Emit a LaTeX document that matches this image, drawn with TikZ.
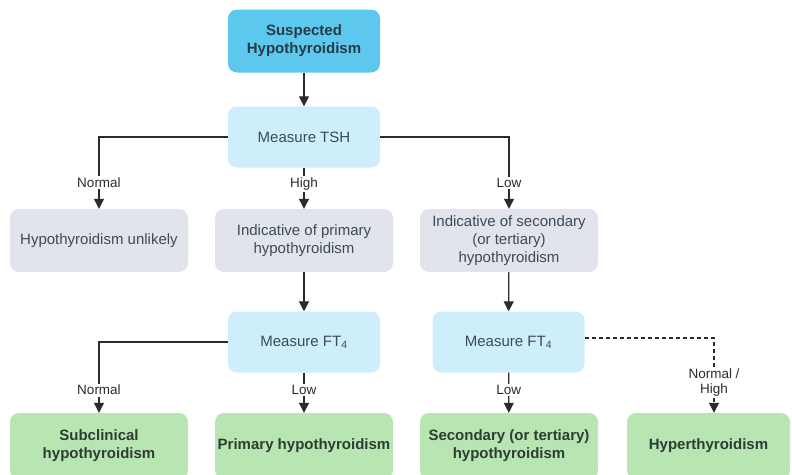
\documentclass[tikz,border=0pt]{standalone}
\usepackage{fontspec}
\setmainfont{Liberation Sans}
\usetikzlibrary{arrows.meta}
\definecolor{topblue}{HTML}{5CC8EE}
\definecolor{lblue}{HTML}{CDEEFA}
\definecolor{lgray}{HTML}{E1E5EB}
\definecolor{lgreen}{HTML}{B8E6B3}
\definecolor{txt}{HTML}{3D4B55}
\definecolor{btxt}{HTML}{283A48}
\definecolor{gtxt}{HTML}{2E3D33}
\definecolor{ln}{HTML}{2B2B2B}
\tikzset{
  box/.style={rounded corners=9pt, draw=none, align=center, inner sep=0pt,
    text=txt, font=\fontsize{15}{18}\selectfont},
  topbox/.style={box, fill=topblue, text=btxt, font=\fontsize{15}{18}\selectfont\bfseries,
    minimum width=152pt, minimum height=63pt},
  measbox/.style={box, fill=lblue, minimum width=152pt, minimum height=61pt},
  graybox/.style={box, fill=lgray, minimum width=178pt, minimum height=63pt},
  greenbox/.style={box, fill=lgreen, text=gtxt, font=\fontsize{15}{18}\selectfont\bfseries,
    minimum width=178pt, minimum height=66pt},
  arr/.style={draw=ln, line width=1.2pt, -{Triangle[length=10pt,width=10pt]}},
  lab/.style={fill=white, inner sep=1.5pt, text=ln, align=center,
    font=\fontsize{13.5}{15}\selectfont},
}
\begin{document}
\begin{tikzpicture}[x=1pt,y=-1pt]
\useasboundingbox (0,0) rectangle (792,474);
\clip (0,0) rectangle (792,474);
\fill[white] (0,0) rectangle (792,474);

\node[topbox] (top) at (304,41) {Suspected\\Hypothyroidism};
\node[measbox] (tsh) at (304,137) {Measure TSH};
\node[graybox] (unl) at (99,240.5) {Hypothyroidism unlikely};
\node[graybox] (pri) at (304,240.5) {Indicative of primary\\hypothyroidism};
\node[graybox] (sec) at (509,240.5) {Indicative of secondary\\(or tertiary)\\hypothyroidism};
\node[measbox] (fta) at (304,342) {Measure FT\textsubscript{4}};
\node[measbox] (ftb) at (508.5,342) {Measure FT\textsubscript{4}};
\node[greenbox] (sub) at (99,446) {Subclinical\\hypothyroidism};
\node[greenbox] (prim) at (304,446) {Primary hypothyroidism};
\node[greenbox] (secd) at (509,446) {Secondary (or tertiary)\\hypothyroidism};
\node[greenbox, minimum width=163pt] (hyp) at (708.5,446) {Hyperthyroidism};

\coordinate (ftbout) at ([yshift=4pt]ftb.east);
\coordinate (hypin) at ([xshift=5.5pt]hyp.north);

\draw[arr] (top) -- (tsh);
\draw[arr] (tsh.west) -| node[lab,pos=0.82]{Normal} (unl.north);
\draw[arr] (tsh) -- node[lab,pos=0.4]{High} (pri);
\draw[arr] (tsh.east) -| node[lab,pos=0.82]{Low} (sec.north);
\draw[arr] (pri) -- (fta);
\draw[arr] (sec) -- (ftb);
\draw[arr] (fta.west) -| node[lab,pos=0.84]{Normal} (sub.north);
\draw[arr] (fta) -- node[lab,pos=0.43]{Low} (prim);
\draw[arr] (ftb) -- node[lab,pos=0.43]{Low} (secd);
\draw[arr, dash pattern=on 4pt off 3pt] (ftbout) -| node[lab,pos=0.8]{Normal /\\High} (hypin);
\end{tikzpicture}
\end{document}
